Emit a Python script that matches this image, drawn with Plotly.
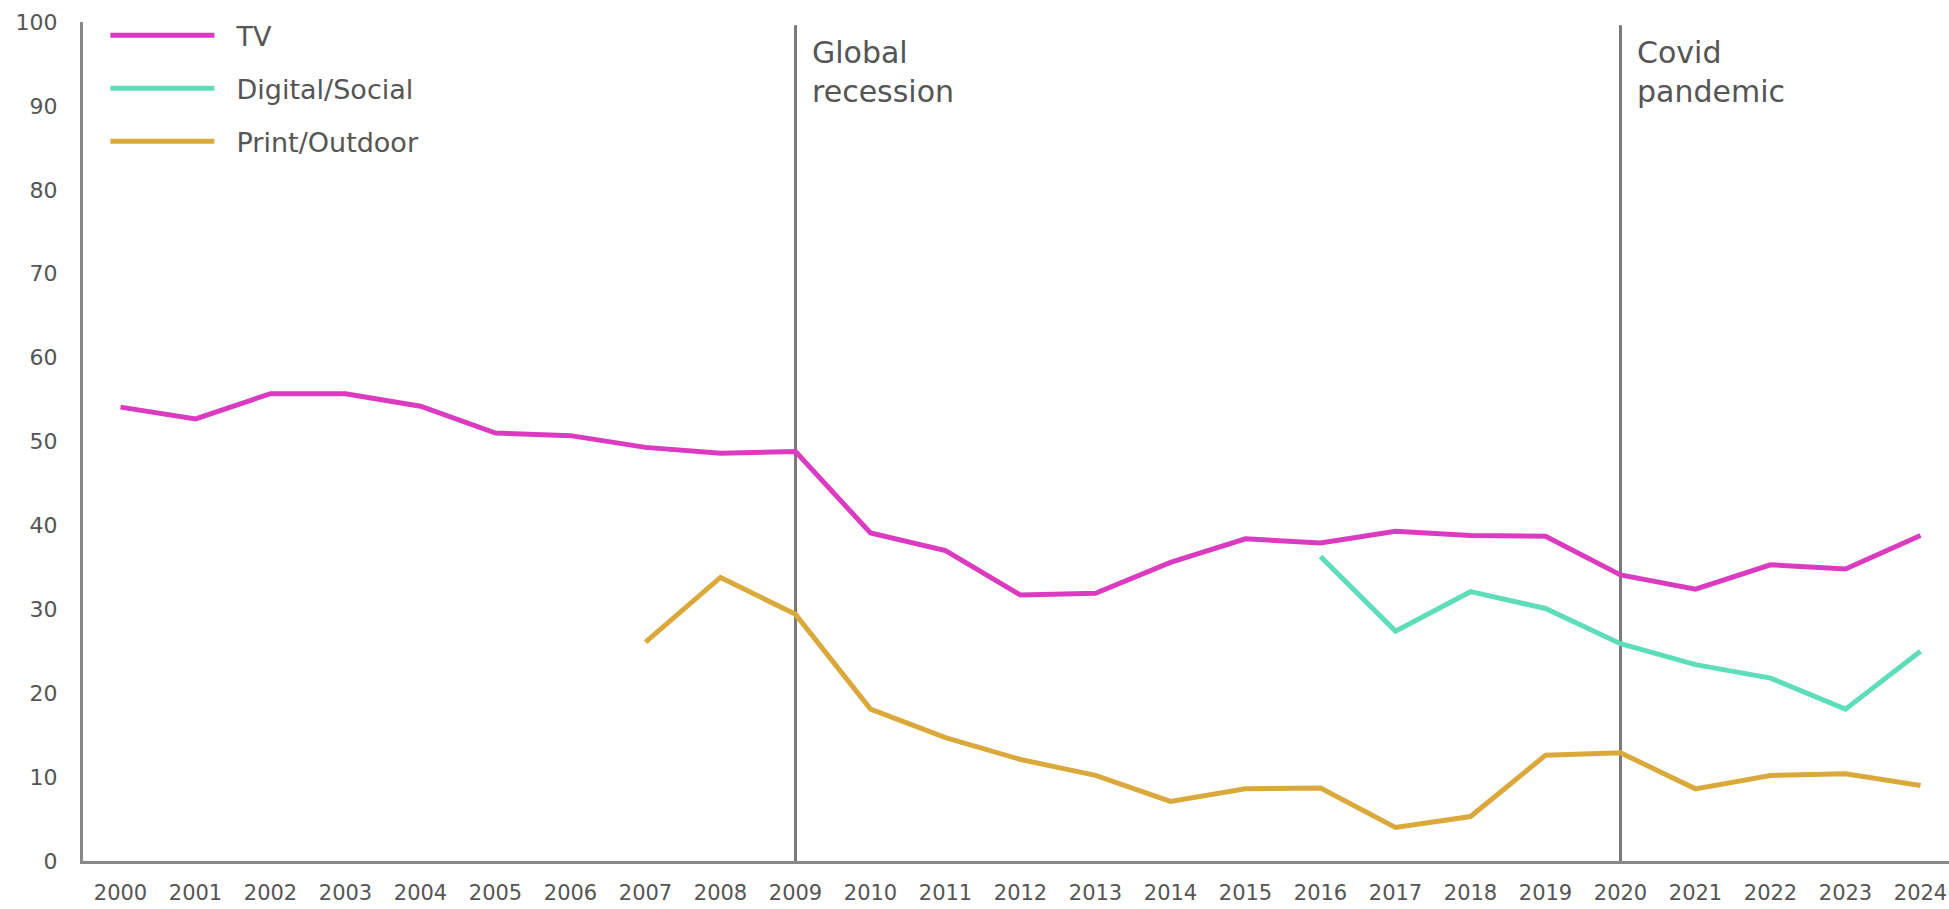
import plotly.graph_objects as go

years = list(range(2000, 2025))
tv = [54.1, 52.7, 55.7, 55.7, 54.2, 51.0, 50.7, 49.3, 48.6, 48.8, 39.1, 37.0, 31.7, 31.9,
      35.6, 38.4, 37.9, 39.3, 38.8, 38.7, 34.1, 32.4, 35.3, 34.8, 38.8]
digital_years = list(range(2016, 2025))
digital = [36.3, 27.4, 32.1, 30.1, 25.9, 23.4, 21.8, 18.1, 25.0]
print_years = list(range(2007, 2025))
print_outdoor = [26.1, 33.8, 29.4, 18.1, 14.7, 12.1, 10.2, 7.1, 8.6, 8.7, 4.0, 5.3, 12.6,
                 12.9, 8.6, 10.2, 10.4, 9.0]
events = [2009, 2020]
event_labels = ["Global<br>recession", "Covid<br>pandemic"]
y_ticks = list(range(0, 101, 10))

FONT = "DejaVu Sans"
TEXT = "#555555"
AXIS = "#888888"
PAD = "\u00a0\u00a0"

fig = go.Figure()
series = [
    ("TV", years, tv, "#DA3BC1"),
    ("Digital/Social", digital_years, digital, "#5EDDBB"),
    ("Print/Outdoor", print_years, print_outdoor, "#DBA93B"),
]
for name, xs, ys, col in series:
    fig.add_trace(go.Scatter(x=xs, y=ys, name=PAD + name, mode="lines",
                             line=dict(color=col, width=5), legendgroup=name))

for ev, lab in zip(events, event_labels):
    fig.add_shape(type="line", x0=ev, x1=ev, y0=0, y1=99.6, xref="x", yref="y",
                  line=dict(color="#7a7a7a", width=3), layer="below")
    fig.add_annotation(x=ev, y=98.7, xref="x", yref="y", text=lab, showarrow=False,
                       xanchor="left", yanchor="top", xshift=14, align="left",
                       font=dict(family=FONT, size=30, color=TEXT))

fig.update_layout(
    width=1949, height=909,
    margin=dict(l=83, r=0, t=22, b=48),
    plot_bgcolor="white", paper_bgcolor="white",
    font=dict(family=FONT, color=TEXT),
    legend=dict(x=0.012, y=1.013, xanchor="left", yanchor="top",
                font=dict(family=FONT, size=27, color=TEXT),
                itemwidth=104, traceorder="grouped", tracegroupgap=15,
                bgcolor="rgba(0,0,0,0)"),
    xaxis=dict(range=[1999.5, 2024.38], tickvals=years, ticktext=[str(y) for y in years],
               showgrid=False, zeroline=False, showline=True, linecolor=AXIS, linewidth=3,
               ticks="", tickfont=dict(family=FONT, size=21, color=TEXT),
               ticklabelstandoff=11, automargin=False),
    yaxis=dict(range=[0, 100], tickvals=y_ticks, showgrid=False, zeroline=False,
               showline=True, linecolor=AXIS, linewidth=3, ticks="",
               tickfont=dict(family=FONT, size=22, color=TEXT), ticklabelstandoff=18,
               automargin=False),
)

fig.write_html("out.html")
